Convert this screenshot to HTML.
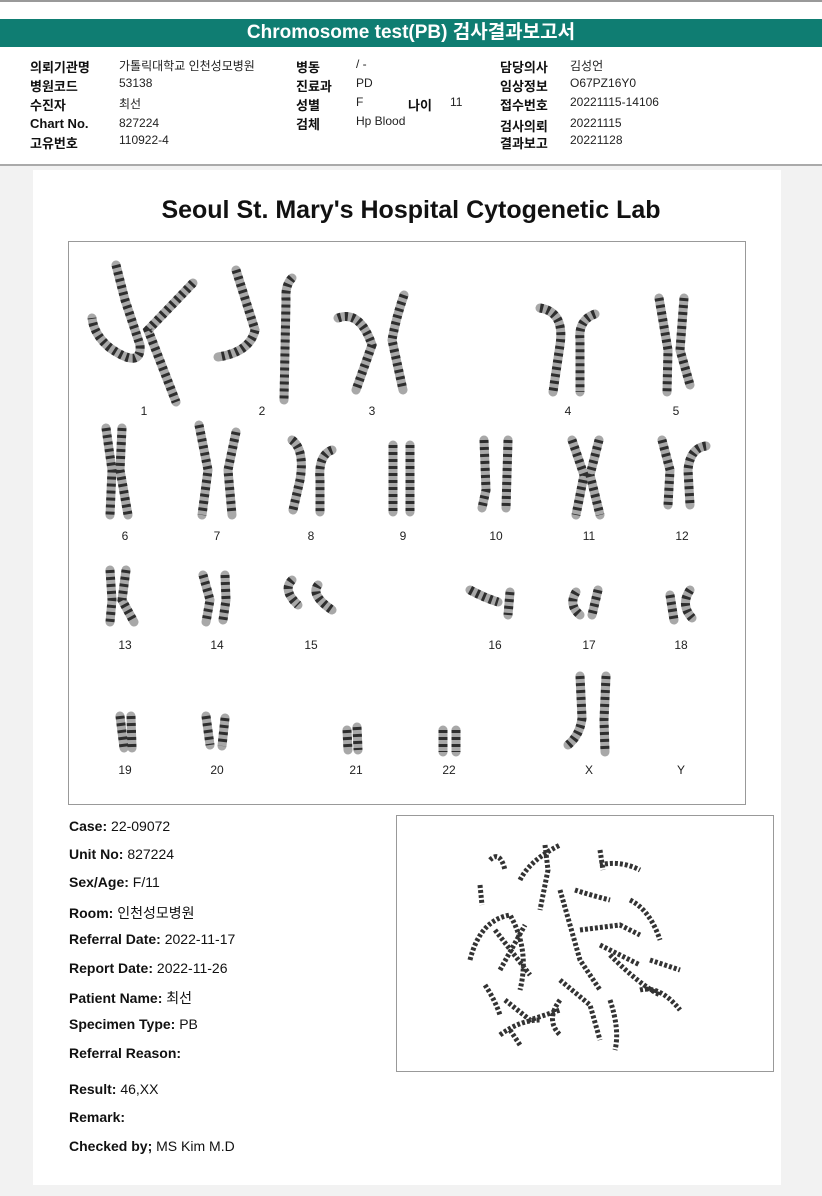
<!DOCTYPE html>
<html><head><meta charset="utf-8"><style>
body{margin:0;width:822px;height:1196px;background:#f2f2f2;position:relative;overflow:hidden;font-family:"Liberation Sans","Noto Sans CJK KR",sans-serif}
.top{position:absolute;left:0;top:0;width:822px;height:166px;background:#fff;border-top:2px solid #999;border-bottom:2px solid #aaa;box-sizing:border-box}
.bar{position:absolute;left:0;top:19px;width:822px;height:28px;background:#0f7d72;color:#fff;text-align:center;font-weight:bold;font-size:19px;line-height:28px}
.t{position:absolute;font-size:12px;color:#222;white-space:nowrap}
.b{font-weight:bold;font-size:13px;color:#111}
.panel{position:absolute;left:33px;top:170px;width:748px;height:1015px;background:#fff}
.title{position:absolute;left:0;width:822px;top:196px;text-align:center;font-size:25px;font-weight:bold;color:#111}
.box{position:absolute;border:1px solid #999;background:#fff}
.n{position:absolute;font-size:12px;color:#222;width:30px;margin-left:-15px;text-align:center}
.f{position:absolute;left:69px;font-size:14px;color:#111;white-space:nowrap}
.f b{font-weight:bold}
</style></head><body>
<div class="top"></div>
<div class="bar">Chromosome test(PB) 검사결과보고서</div>
<div class="t b" style="left:30px;top:57px">의뢰기관명</div><div class="t" style="left:119px;top:57px">가톨릭대학교 인천성모병원</div>
<div class="t b" style="left:30px;top:76px">병원코드</div><div class="t" style="left:119px;top:76px">53138</div>
<div class="t b" style="left:30px;top:95px">수진자</div><div class="t" style="left:119px;top:95px">최선</div>
<div class="t b" style="left:30px;top:116px">Chart No.</div><div class="t" style="left:119px;top:116px">827224</div>
<div class="t b" style="left:30px;top:133px">고유번호</div><div class="t" style="left:119px;top:133px">110922-4</div>
<div class="t b" style="left:296px;top:57px">병동</div><div class="t" style="left:356px;top:57px">/ -</div>
<div class="t b" style="left:296px;top:76px">진료과</div><div class="t" style="left:356px;top:76px">PD</div>
<div class="t b" style="left:296px;top:95px">성별</div><div class="t" style="left:356px;top:95px">F</div>
<div class="t b" style="left:408px;top:95px">나이</div><div class="t" style="left:450px;top:95px">11</div>
<div class="t b" style="left:296px;top:114px">검체</div><div class="t" style="left:356px;top:114px">Hp Blood</div>
<div class="t b" style="left:500px;top:57px">담당의사</div><div class="t" style="left:570px;top:57px">김성언</div>
<div class="t b" style="left:500px;top:76px">임상정보</div><div class="t" style="left:570px;top:76px">O67PZ16Y0</div>
<div class="t b" style="left:500px;top:95px">접수번호</div><div class="t" style="left:570px;top:95px">20221115-14106</div>
<div class="t b" style="left:500px;top:116px">검사의뢰</div><div class="t" style="left:570px;top:116px">20221115</div>
<div class="t b" style="left:500px;top:133px">결과보고</div><div class="t" style="left:570px;top:133px">20221128</div>
<div class="panel"></div>
<div class="title">Seoul St. Mary's Hospital Cytogenetic Lab</div>
<div class="box" style="left:68px;top:241px;width:676px;height:562px"></div>
<div class="box" style="left:396px;top:815px;width:376px;height:255px"></div>
<svg width="822" height="1196" style="position:absolute;left:0;top:0" fill="none" stroke-linecap="round">
<defs><g id="u">
<path d="M116,265 L125,300 L140,345 Q142,370 110,348 Q94,335 92,318 M193,283 L148,330 L176,402"/>
<path d="M236,270 L255,330 Q250,352 218,357 M292,278 Q285,285 286,300 L284,400"/>
<path d="M338,318 Q360,310 372,345 L356,390 M404,295 Q396,318 392,340 L403,390"/>
<path d="M540,308 Q565,312 560,345 L553,392 M595,314 Q578,320 580,340 L580,392"/>
<path d="M659,298 L668,350 L667,392 M684,298 L680,350 L690,385"/>
<path d="M106,428 L112,470 L110,515 M122,428 L120,470 L128,515 M199,425 L208,470 L202,515 M236,432 L228,470 L232,515 M292,440 Q305,450 300,480 L293,510 M332,450 Q318,455 320,480 L320,512 M393,445 L393,512 M410,445 L410,512 M484,440 L486,490 L482,508 M508,440 L506,508 M572,440 L584,475 L576,515 M599,440 L590,475 L600,515 M662,440 L670,470 L668,505 M706,446 Q690,448 688,470 L690,505"/>
<path d="M110,570 L112,600 L110,622 M126,570 L122,600 L134,622 M203,575 L210,600 L206,622 M225,575 L226,600 L223,620 M292,580 Q282,590 298,605 M318,585 Q310,595 332,610 M470,590 Q485,598 498,602 M510,592 L508,615 M576,592 Q568,605 580,615 M598,590 L592,615 M670,595 L674,620 M690,590 Q680,605 692,618"/>
<path d="M120,716 L124,748 M131,716 L132,748 M206,716 L210,745 M225,718 L222,746 M347,730 L348,750 M357,727 L358,750 M443,730 L443,752 M456,730 L456,752 M580,676 L582,718 Q580,735 568,745 M606,676 L604,720 L605,752"/>
</g></defs>
<g stroke="#a8a8a8" stroke-width="9"><use href="#u"/></g>
<g stroke="#2e2e2e" stroke-width="9" stroke-dasharray="3 4" stroke-linecap="butt"><use href="#u"/></g>
<g stroke="#333" stroke-width="5" stroke-dasharray="3 2" stroke-linecap="butt">
<path d="M490,860 Q500,850 505,870 M480,885 L482,905 M520,880 Q530,860 560,845 M545,845 L548,870 L540,910 M470,960 Q480,920 510,915 Q530,950 520,990 M495,930 L530,975 M500,970 L525,925 M560,890 L580,960 L600,990 M575,890 Q590,895 610,900 M600,865 Q620,860 640,870 M600,850 L603,870 M630,900 Q650,910 660,940 M580,930 L620,925 L640,935 M600,945 L640,965 M560,1000 Q545,1020 560,1035 M505,1000 L530,1020 L560,1010 M485,985 Q495,1000 500,1015 M500,1035 Q520,1020 540,1020 M560,980 L590,1005 L600,1040 M610,1000 Q620,1030 615,1050 M640,990 Q660,985 680,1010 M650,960 L680,970 M610,955 Q640,985 660,995 M510,1030 L520,1045"/>
</g>
</svg>
<div class="n" style="left:144px;top:404px">1</div><div class="n" style="left:262px;top:404px">2</div><div class="n" style="left:372px;top:404px">3</div><div class="n" style="left:568px;top:404px">4</div><div class="n" style="left:676px;top:404px">5</div>
<div class="n" style="left:125px;top:529px">6</div><div class="n" style="left:217px;top:529px">7</div><div class="n" style="left:311px;top:529px">8</div><div class="n" style="left:403px;top:529px">9</div><div class="n" style="left:496px;top:529px">10</div><div class="n" style="left:589px;top:529px">11</div><div class="n" style="left:682px;top:529px">12</div>
<div class="n" style="left:125px;top:638px">13</div><div class="n" style="left:217px;top:638px">14</div><div class="n" style="left:311px;top:638px">15</div><div class="n" style="left:495px;top:638px">16</div><div class="n" style="left:589px;top:638px">17</div><div class="n" style="left:681px;top:638px">18</div>
<div class="n" style="left:125px;top:763px">19</div><div class="n" style="left:217px;top:763px">20</div><div class="n" style="left:356px;top:763px">21</div><div class="n" style="left:449px;top:763px">22</div><div class="n" style="left:589px;top:763px">X</div><div class="n" style="left:681px;top:763px">Y</div>
<div class="f" style="top:818px"><b>Case:</b> 22-09072</div>
<div class="f" style="top:846px"><b>Unit No:</b> 827224</div>
<div class="f" style="top:874px"><b>Sex/Age:</b> F/11</div>
<div class="f" style="top:903px"><b>Room:</b> 인천성모병원</div>
<div class="f" style="top:931px"><b>Referral Date:</b> 2022-11-17</div>
<div class="f" style="top:960px"><b>Report Date:</b> 2022-11-26</div>
<div class="f" style="top:988px"><b>Patient Name:</b> 최선</div>
<div class="f" style="top:1016px"><b>Specimen Type:</b> PB</div>
<div class="f" style="top:1045px"><b>Referral Reason:</b></div>
<div class="f" style="top:1081px"><b>Result:</b> 46,XX</div>
<div class="f" style="top:1109px"><b>Remark:</b></div>
<div class="f" style="top:1138px"><b>Checked by;</b> MS Kim M.D</div>
</body></html>
